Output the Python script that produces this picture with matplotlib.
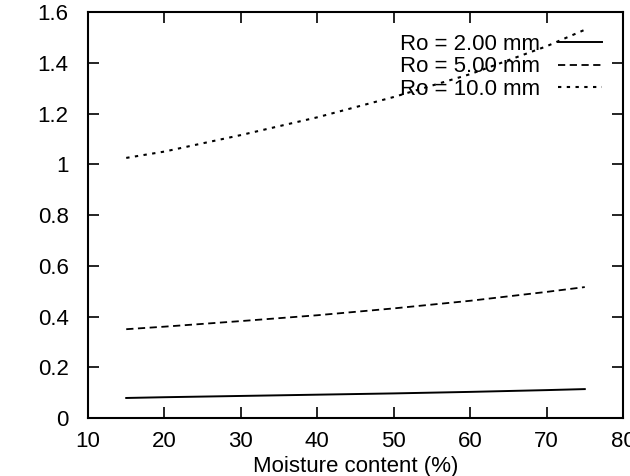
import numpy as np
from matplotlib import pyplot as plt

plt.rcParams['font.family'] = ['Liberation Sans', 'DejaVu Sans']

moisture = [15, 20, 30, 40, 50, 60, 70, 75]
ro_2mm = [0.079, 0.082, 0.087, 0.092, 0.097, 0.103, 0.110, 0.114]
ro_5mm = [0.350, 0.360, 0.382, 0.405, 0.432, 0.462, 0.497, 0.516]
ro_10mm = [1.025, 1.050, 1.115, 1.185, 1.265, 1.355, 1.465, 1.530]
labels = ['Ro = 2.00 mm', 'Ro = 5.00 mm', 'Ro = 10.0 mm']

fig = plt.figure(figsize=(6.3, 4.76), dpi=100)
ax = fig.add_axes([0.1397, 0.1218, 0.8492, 0.8530])

ax.plot(moisture, ro_2mm, '-', color='k', lw=1.4, label=labels[0])
ax.plot(moisture, ro_5mm, color='k', lw=1.3, ls=(0, (4, 2.5)), label=labels[1])
ax.plot(moisture, ro_10mm, color='k', lw=1.5, ls=(0, (1.6, 2.6)), label=labels[2])

ax.set_xlim(10, 80)
ax.set_ylim(0, 1.6)
ax.set_xticks(np.arange(10, 81, 10))
ax.set_yticks(np.arange(0, 1.61, 0.2))
ax.set_yticklabels(['0', '0.2', '0.4', '0.6', '0.8', '1', '1.2', '1.4', '1.6'])
ax.tick_params(direction='in', length=8, width=1.2, top=True, right=True,
               labelsize=16)
ax.tick_params(axis='x', pad=9)
ax.tick_params(axis='y', pad=14)
for s in ax.spines.values():
    s.set_linewidth(1.5)

ax.set_xlabel('Moisture content (%)', fontsize=16, labelpad=3)

leg = ax.legend(loc='upper right', bbox_to_anchor=(0.99, 0.985), frameon=False,
                markerfirst=False, fontsize=16, handlelength=2.0,
                handletextpad=0.8, labelspacing=0.08, borderpad=0.2)

fig.savefig('out.png', dpi=100)
